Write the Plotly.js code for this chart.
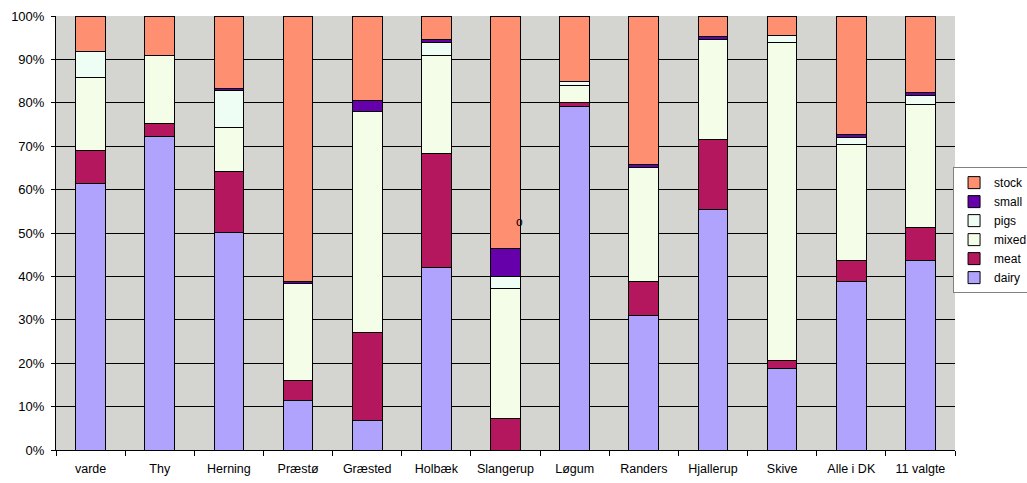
<!DOCTYPE html>
<html>
<head>
<meta charset="utf-8">
<script src="https://cdn.plot.ly/plotly-3.0.1.min.js"></script>
<style>html,body{margin:0;padding:0;background:#fff;}#chart{width:1027px;height:483px;}</style>
</head>
<body>
<div id="chart"></div>
<script>
const categories = ["varde","Thy","Herning","Præstø","Græsted","Holbæk","Slangerup","Løgum","Randers","Hjallerup","Skive","Alle i DK","11 valgte"];
const dairy = [61.4,72.2,50.2,11.5,6.8,42.1,0,79.1,30.9,55.5,18.7,38.9,43.6];
const meat  = [7.5,3.1,13.9,4.4,20.3,26.2,7.3,0.9,8.0,16.1,2.0,4.8,7.6];
const mixed = [17.0,15.6,10.2,22.5,51.0,22.6,30.0,3.9,26.1,22.9,73.3,26.8,28.3];
const pigs  = [6.0,0,8.5,0,0,3.0,2.6,1.1,0,0,1.5,1.6,2.2];
const small = [0,0,0.5,0.5,2.5,0.7,6.5,0,0.7,0.7,0,0.5,0.7];
const stock = [8.1,9.1,16.7,61.1,19.4,5.4,53.6,15.0,34.3,4.8,4.5,27.4,17.6];
const yTicks = [0,10,20,30,40,50,60,70,80,90,100];

const series = [
  {name:"dairy", y:dairy, color:"#AFA3FD"},
  {name:"meat",  y:meat,  color:"#B5175F"},
  {name:"mixed", y:mixed, color:"#F4FDE8"},
  {name:"pigs",  y:pigs,  color:"#EEFEF4"},
  {name:"small", y:small, color:"#6600AA"},
  {name:"stock", y:stock, color:"#FF8F71"}
];

const traces = series.map(s => ({
  type:"bar", name:s.name, x:categories, y:s.y, legendgroup:s.name,
  marker:{color:s.color, line:{color:"#000", width:1}},
  hoverinfo:"x+y+name"
}));

const layout = {
  width:1027, height:483,
  margin:{l:56, r:72, t:16, b:33, autoexpand:false},
  barmode:"stack", bargap:0.57,
  paper_bgcolor:"#fff", plot_bgcolor:"#D4D4D0",
  font:{family:"Liberation Sans, Arial, sans-serif", size:12, color:"#000"},
  xaxis:{type:"category", showline:true, linecolor:"#000", linewidth:1,
         ticks:"outside", tickson:"boundaries", ticklen:5, tickcolor:"#000",
         showgrid:false, tickfont:{size:12.5}, ticklabelstandoff:7},
  yaxis:{range:[0,100], tickvals:yTicks, ticktext:yTicks.map(v=>v+"%"),
         showline:true, linecolor:"#000", linewidth:1, ticks:"outside", ticklen:4, tickcolor:"#000",
         gridcolor:"#000", gridwidth:1, tickfont:{size:13}, zeroline:false, ticklabelstandoff:4},
  legend:{xref:"container", yref:"container", x:0.928, xanchor:"left", y:0.654, yanchor:"top",
          traceorder:"reversed",
          bgcolor:"#fff", bordercolor:"#808080", borderwidth:1,
          font:{size:12}, tracegroupgap:3, itemwidth:30},
  annotations:[{x:6.2, y:52.5, xref:"x", yref:"y", text:"o", showarrow:false, font:{size:12}}],
  showlegend:true
};

Plotly.newPlot("chart", traces, layout, {displayModeBar:false, staticPlot:true});
</script>
</body>
</html>
